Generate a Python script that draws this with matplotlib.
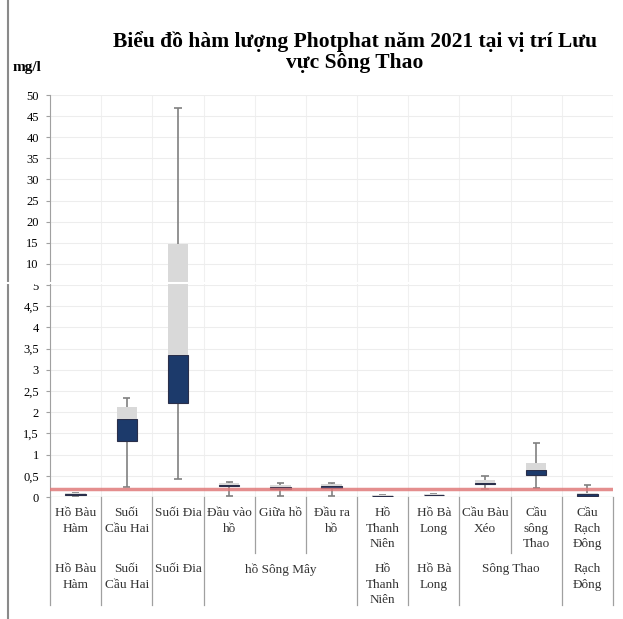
import matplotlib
matplotlib.use("Agg")
import matplotlib.pyplot as plt
import matplotlib.transforms as mtransforms
from matplotlib.ticker import FuncFormatter

plt.rcParams['font.family'] = ['Liberation Serif', 'DejaVu Serif']

# station labels (first row) and basin groups (second row)
stations = ["Hồ Bàu\nHàm", "Suối\nCầu Hai", "Suối Đia", "Đầu vào\nhồ", "Giữa hồ",
            "Đầu ra\nhồ", "Hồ\nThanh\nNiên", "Hồ Bà\nLong", "Cầu Bàu\nXéo",
            "Cầu\nsông\nThao", "Cầu\nRạch\nĐông"]
groups = ["Hồ Bàu\nHàm", "Suối\nCầu Hai", "Suối Đia", "hồ Sông Mây",
          "Hồ\nThanh\nNiên", "Hồ Bà\nLong", "Sông Thao", "Rạch\nĐông"]
group_sizes = [1, 1, 1, 3, 1, 1, 2, 1]

# box plot statistics (mg/l)
v_min = [0.03, 0.23, 0.42, 0.02, 0.02, 0.02, 0.02, 0.04, 0.18, 0.21, 0.01]
v_q1 = [0.05, 1.31, 2.22, 0.25, 0.18, 0.21, 0.025, 0.05, 0.30, 0.53, 0.02]
v_med = [0.07, 1.84, 3.34, 0.29, 0.23, 0.25, 0.03, 0.055, 0.34, 0.63, 0.06]
v_q3 = [0.09, 2.12, 14.6, 0.33, 0.28, 0.30, 0.04, 0.065, 0.40, 0.80, 0.10]
v_max = [0.10, 2.34, 46.9, 0.36, 0.34, 0.33, 0.04, 0.07, 0.50, 1.28, 0.29]

limit_value = 0.2

NAVY = '#1c3a6b'
LIGHT = '#d9d9d9'
WHISK = '#808080'

W, H = 623, 619
fig = plt.figure(figsize=(W / 100, H / 100), dpi=100)

x_left, x_right = 50, 613
y0, y5, y50 = 497, 285, 95
ax_lo = fig.add_axes([x_left / W, (H - y0) / H, (x_right - x_left) / W, (y0 - y5) / H])
ax_hi = fig.add_axes([x_left / W, (H - y5) / H, (x_right - x_left) / W, (y5 - y50) / H])

xs = list(range(len(stations)))


def draw_boxes(ax):
    lo = [m - q for m, q in zip(v_med, v_q1)]
    hi = [q - m for q, m in zip(v_q3, v_med)]
    ax.bar(xs, lo, bottom=v_q1, width=0.4, color=NAVY, edgecolor='#2a2f4a',
           linewidth=0.8, zorder=3)
    ax.bar(xs, hi, bottom=v_med, width=0.4, color=LIGHT, linewidth=0.0, zorder=3)
    ax.vlines(xs, v_min, v_q1, color=WHISK, lw=1.2, zorder=2)
    ax.vlines(xs, v_q3, v_max, color=WHISK, lw=1.2, zorder=2)
    ax.hlines(v_max, [x - 0.07 for x in xs], [x + 0.07 for x in xs], color=WHISK, lw=1.2, zorder=2)
    ax.hlines(v_min, [x - 0.07 for x in xs], [x + 0.07 for x in xs], color=WHISK, lw=1.2, zorder=2)


for ax in (ax_lo, ax_hi):
    draw_boxes(ax)
    ax.set_xlim(-0.5, len(stations) - 0.5)
    ax.set_xticks([])
    for s in ('top', 'right', 'bottom'):
        ax.spines[s].set_visible(False)
    ax.spines['left'].set_color('#a0a0a0')
    ax.tick_params(axis='y', direction='out', length=3, color='#a0a0a0',
                   labelsize=9, pad=5)
    ax.grid(axis='y', color='#ededed', lw=0.8, zorder=0)
    for b in range(len(stations) + 1):
        ax.axvline(b - 0.5, color='#f0f0f0', lw=0.8, zorder=0)
    ax.yaxis.set_major_formatter(FuncFormatter(lambda v, p: f'{v:g}'.replace('.', ',')))

ax_lo.set_ylim(0, 5)
ax_lo.set_yticks([i * 0.5 for i in range(11)])
ax_hi.set_ylim(5, 50)
ax_hi.set_yticks(list(range(10, 55, 5)))
ax_lo.axhline(limit_value, color='#e07a7a', lw=2.5, alpha=0.85, zorder=4)
ax_lo.axhline(0, color='#d8e4d8', lw=1, zorder=1)

# category table under the axis
tr = mtransforms.blended_transform_factory(ax_lo.transData, fig.transFigure)
group_edges = [-0.5]
for n in group_sizes:
    group_edges.append(group_edges[-1] + n)
for b in range(len(stations) + 1):
    e = b - 0.5
    bottom = 605 if e in group_edges else 553
    ax_lo.plot([e, e], [(H - y0) / H, (H - bottom) / H], transform=tr,
               color='#a0a0a0', lw=0.9, clip_on=False)
for x, lab in zip(xs, stations):
    ax_lo.text(x, (H - 507) / H, lab, transform=tr, ha='center', va='top',
               fontsize=9.5, linespacing=1.4, color='#333333')
start = 0
for lab, n in zip(groups, group_sizes):
    xc = start + (n - 1) / 2
    ax_lo.text(xc, (H - 563) / H, lab, transform=tr, ha='center', va='top',
               fontsize=9.5, linespacing=1.4, color='#333333')
    start += n

fig.text(355 / W, (H - 52) / H, "Biểu đồ hàm lượng Photphat năm 2021 tại vị trí Lưu\nvực Sông Thao",
         ha='center', va='center', fontsize=15.5, fontweight='bold', linespacing=1.05)
fig.text(13 / W, (H - 68) / H, "mg/l", ha='left', va='center', fontsize=11, fontweight='bold')

# outer frame edge on the left and the seam between the two panels
fig.add_artist(plt.Line2D([8 / W, 8 / W], [0, 1], color='#8a8a8a', lw=1.5))
fig.add_artist(plt.Line2D([0, 520 / W], [(H - 283) / H, (H - 283) / H], color='white', lw=1.5, zorder=10))

fig.savefig("out.png", dpi=100)
